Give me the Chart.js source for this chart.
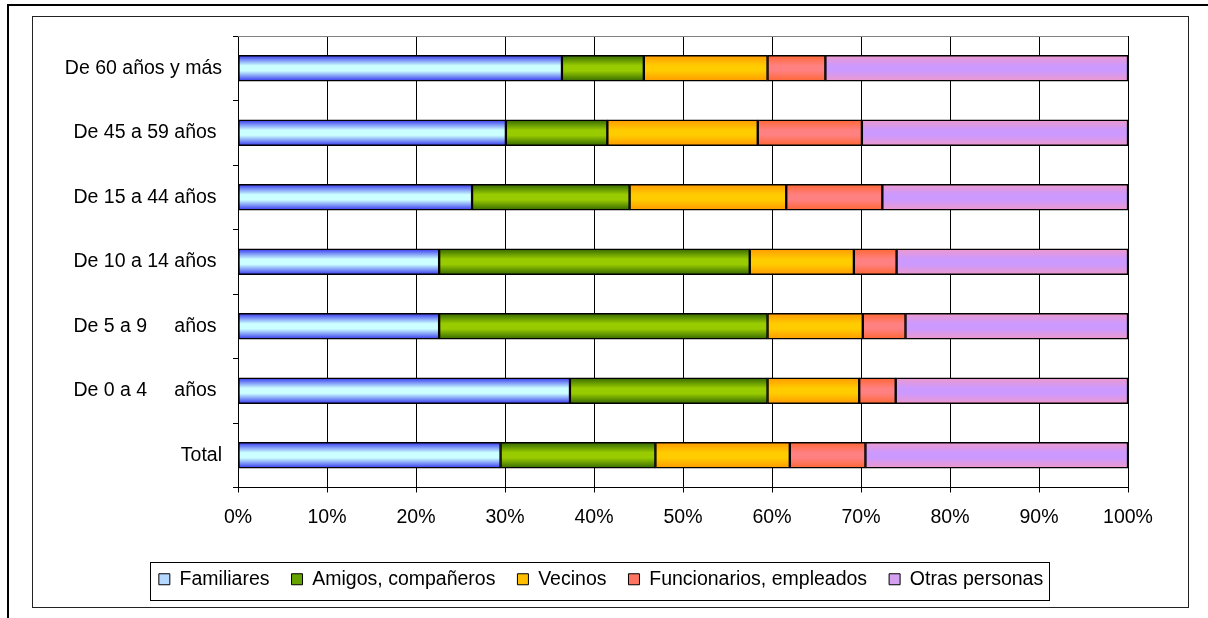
<!DOCTYPE html>
<html>
<head>
<meta charset="utf-8">
<title>Personas</title>
<script src="https://cdn.jsdelivr.net/npm/chart.js@4/dist/chart.umd.min.js"></script>
<style>
  body { margin: 0; background: #fff; overflow: hidden; }
  #outer { position: absolute; left: 7px; top: 4px; width: 1300px; height: 700px; border: 2px solid #000; }
  #inner { position: absolute; left: 32px; top: 16px; width: 1155px; height: 590px; border: 1px solid #222; }
  #chart { position: absolute; left: 0; top: 0; }
</style>
</head>
<body>
<div id="outer"></div>
<div id="inner"></div>
<canvas id="chart" width="1208" height="618"></canvas>
<script>
const categories = [
  "De 60 años y más", "De 45 a 59 años ", "De 15 a 44 años ", "De 10 a 14 años ",
  "De 5 a 9     años ", "De 0 a 4     años ", "Total",
];
const seriesNames = ["Familiares", "Amigos, compañeros", "Vecinos", "Funcionarios, empleados", "Otras personas"];
const familiares = [36.4, 30.1, 26.3, 22.6, 22.6, 37.3, 29.5];
const amigos = [9.2, 11.4, 17.7, 34.9, 36.9, 22.2, 17.4];
const vecinos = [13.9, 16.9, 17.6, 11.7, 10.7, 10.3, 15.1];
const funcionarios = [6.5, 11.7, 10.8, 4.8, 4.8, 4.1, 8.5];
const otras = [34.0, 29.9, 27.6, 26.0, 25.0, 26.1, 29.5];
const xTicks = [0, 10, 20, 30, 40, 50, 60, 70, 80, 90, 100];

document.addEventListener("DOMContentLoaded", function () {
  const font = { family: "'Liberation Sans', Arial, sans-serif", size: 19.5 };
  const legendColors = ["#b4d8ff", "#66a300", "#ffbf00", "#ff7460", "#d6a0f2"];

  // vertical gradient across each bar: edge colour -> centre colour -> edge colour
  function barFill(edge, centre, flat) {
    return function (context) {
      if (context.type !== "data") return flat;
      const chart = context.chart;
      const yScale = chart.scales.y;
      if (!yScale || !chart.chartArea) return flat;
      const yc = yScale.getPixelForValue(context.dataIndex);
      if (!isFinite(yc)) return flat;
      const g = chart.ctx.createLinearGradient(0, yc - 13, 0, yc + 13);
      g.addColorStop(0, edge);
      g.addColorStop(0.4, centre);
      g.addColorStop(0.6, centre);
      g.addColorStop(1, edge);
      return g;
    };
  }

  const fills = [
    barFill("#3333ee", "#ccffff", legendColors[0]),
    barFill("#336600", "#99cc00", legendColors[1]),
    barFill("#ff9900", "#ffcc00", legendColors[2]),
    barFill("#ff6633", "#ff8080", legendColors[3]),
    barFill("#ee99cc", "#cc99ff", legendColors[4]),
  ];
  const values = [familiares, amigos, vecinos, funcionarios, otras];

  const datasets = seriesNames.map((name, i) => ({
    label: name,
    data: values[i],
    backgroundColor: fills[i],
    borderColor: "#000",
    borderWidth: 1.5,
    borderSkipped: false,
    barThickness: 26,
  }));

  const frames = {
    id: "frames",
    afterLayout(chart) {
      // legend sits a little right of the canvas centre in the original
      chart.legend.left += 10;
      chart.legend.right += 10;
    },
    beforeDatasetsDraw(chart) {
      const { ctx, chartArea } = chart;
      ctx.save();
      ctx.strokeStyle = "#808080";
      ctx.lineWidth = 1;
      ctx.beginPath();
      ctx.moveTo(chartArea.left, Math.round(chartArea.top) + 0.5);
      ctx.lineTo(chartArea.right, Math.round(chartArea.top) + 0.5);
      ctx.stroke();
      ctx.restore();
    },
    afterDraw(chart) {
      const boxes = chart.legend.legendHitBoxes;
      if (!boxes.length) return;
      let left = Infinity, right = -Infinity, top = Infinity, bottom = -Infinity;
      boxes.forEach((b) => {
        left = Math.min(left, b.left);
        right = Math.max(right, b.left + b.width);
        top = Math.min(top, b.top);
        bottom = Math.max(bottom, b.top + b.height);
      });
      const ctx = chart.ctx;
      ctx.save();
      ctx.strokeStyle = "#000";
      ctx.lineWidth = 1;
      ctx.strokeRect(Math.round(left - 9) + 0.5, Math.round(top - 8) + 0.5,
        Math.round(right - left + 15), Math.round(bottom - top + 18));
      ctx.restore();
    },
  };

  const chart = new Chart(document.getElementById("chart"), {
    type: "bar",
    data: { labels: categories, datasets: datasets },
    plugins: [frames],
    options: {
      indexAxis: "y",
      responsive: false,
      animation: false,
      layout: { padding: { left: 54, right: 80, top: 36, bottom: 19 } },
      scales: {
        x: {
          stacked: true,
          min: 0,
          max: 100,
          afterBuildTicks: (scale) => { scale.ticks = xTicks.map((v) => ({ value: v })); },
          afterFit: (scale) => { scale.height = 60; },
          ticks: { font: font, color: "#000", padding: 13, callback: (v) => v + "%" },
          grid: { color: "#000", lineWidth: 1, tickLength: 5 },
          border: { color: "#000", width: 1 },
        },
        y: {
          stacked: true,
          afterFit: (scale) => { scale.width = 184; },
          ticks: { font: font, color: "#000", padding: 11 },
          grid: { drawOnChartArea: false, offset: true, color: "#000", tickLength: 5 },
          border: { color: "#000", width: 1 },
        },
      },
      plugins: {
        tooltip: { enabled: false },
        legend: {
          position: "bottom",
          labels: {
            font: font,
            color: "#000",
            boxWidth: 11,
            boxHeight: 11,
            padding: 22,
            generateLabels: (c) => {
              const items = Chart.defaults.plugins.legend.labels.generateLabels(c);
              items.forEach((item, i) => {
                item.fillStyle = legendColors[i];
                item.strokeStyle = "#000";
                item.lineWidth = 1;
              });
              return items;
            },
          },
        },
      },
    },
  });
  // second pass so the bar gradients see the finished layout
  chart.update();
});
</script>
</body>
</html>
